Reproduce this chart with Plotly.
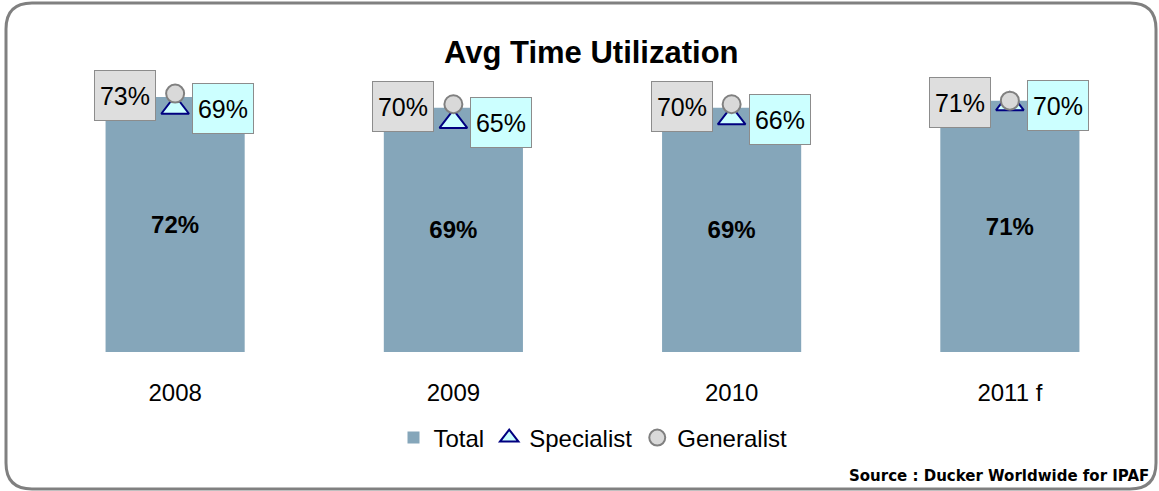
import plotly.graph_objects as go

years = ["2008", "2009", "2010", "2011 f"]
total = [72, 69, 69, 71]
specialist = [69, 65, 66, 70]
generalist = [73, 70, 70, 71]

idx = list(range(len(years)))

W, H = 1159, 491
ML, MR, MT, MB = 36, 10, 5, 139
PW, PH = W - ML - MR, H - MT - MB

FONT = "Liberation Sans, Arial, sans-serif"

fig = go.Figure()
fig.add_trace(go.Bar(
    x=idx, y=total, name="Total", width=0.5,
    marker=dict(color="#85A6BA", line=dict(width=0)),
    text=[f"{v}%" for v in total], textposition="inside",
    insidetextanchor="middle",
    textfont=dict(family=FONT, size=24, color="black", weight="bold"),
    hoverinfo="skip",
))
fig.add_trace(go.Scatter(
    x=idx, y=specialist, name="Specialist", mode="markers",
    marker=dict(symbol="triangle-up", size=24, color="#CCFFFF",
                line=dict(color="#000080", width=2)),
    hoverinfo="skip",
))
fig.add_trace(go.Scatter(
    x=idx, y=generalist, name="Generalist", mode="markers",
    marker=dict(symbol="circle", size=18, color="#D9D9D9",
                line=dict(color="#808080", width=2)),
    hoverinfo="skip",
))

anns = []
for i, g, s in zip(idx, generalist, specialist):
    anns.append(dict(x=i, y=g, xref="x", yref="y", text=f"{g}%", showarrow=False,
                     xshift=-50, yshift=-2, width=60, height=49, bgcolor="#DEDEDE",
                     bordercolor="#8C8C8C", borderwidth=1, borderpad=0,
                     font=dict(family=FONT, size=25, color="black")))
    anns.append(dict(x=i, y=s, xref="x", yref="y", text=f"{s}%", showarrow=False,
                     xshift=48, yshift=-1, width=60, height=49, bgcolor="#CCFFFF",
                     bordercolor="#8C8C8C", borderwidth=1, borderpad=0,
                     font=dict(family=FONT, size=25, color="black")))

def px(x):
    return (x - ML) / PW

def py(y):
    return (MT + PH - y) / PH

anns.append(dict(x=px(591), y=py(52), xref="paper", yref="paper",
                 xanchor="center", yanchor="middle",
                 text="<b>Avg Time Utilization</b>", showarrow=False,
                 font=dict(family=FONT, size=31, color="black")))
anns.append(dict(x=px(1151), y=py(476), xref="paper", yref="paper",
                 xanchor="right", yanchor="middle",
                 text="<b>Source : Ducker Worldwide for IPAF</b>", showarrow=False,
                 font=dict(family="DejaVu Sans, sans-serif", size=15, color="black")))

x0, x1, y0, y1, r = 6, 1156, 3, 489, 26
path = (f"M {px(x0 + r)},{py(y0)} L {px(x1 - r)},{py(y0)} "
        f"Q {px(x1)},{py(y0)} {px(x1)},{py(y0 + r)} "
        f"L {px(x1)},{py(y1 - r)} Q {px(x1)},{py(y1)} {px(x1 - r)},{py(y1)} "
        f"L {px(x0 + r)},{py(y1)} Q {px(x0)},{py(y1)} {px(x0)},{py(y1 - r)} "
        f"L {px(x0)},{py(y0 + r)} Q {px(x0)},{py(y0)} {px(x0 + r)},{py(y0)} Z")

fig.update_layout(
    width=W, height=H, margin=dict(l=ML, r=MR, t=MT, b=MB),
    paper_bgcolor="white", plot_bgcolor="white",
    font=dict(family=FONT, size=20, color="black"),
    showlegend=True,
    legend=dict(orientation="h", x=px(593), xanchor="center",
                y=py(438), yanchor="middle", font=dict(size=24),
                itemwidth=30, tracegroupgap=0, bgcolor="rgba(0,0,0,0)"),
    xaxis=dict(range=[-0.5, len(years) - 0.5], tickvals=idx, ticktext=years,
               showgrid=False, showline=False, zeroline=False,
               ticks="outside", ticklen=19, tickcolor="rgba(0,0,0,0)",
               tickfont=dict(size=24)),
    yaxis=dict(range=[0, PH / 3.54], visible=False),
    annotations=anns,
    shapes=[dict(type="path", path=path, xref="paper", yref="paper",
                 line=dict(color="#808080", width=3), layer="below")],
)

fig.write_html("out.html", config={"displayModeBar": False},
               post_script="document.body.style.margin='0';")
